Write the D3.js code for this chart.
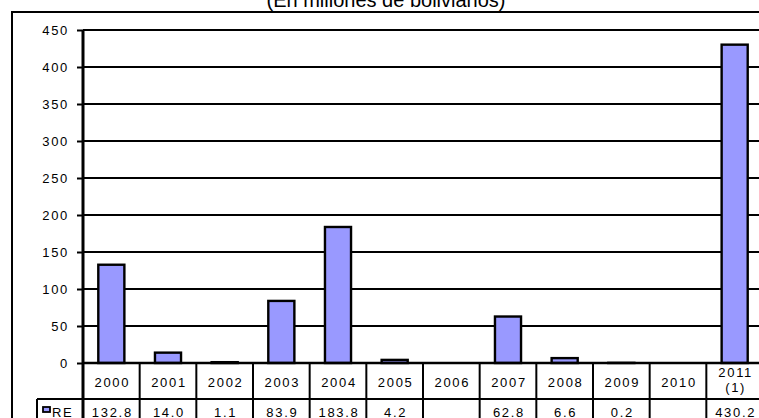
<!DOCTYPE html>
<html>
<head>
<meta charset="utf-8">
<script src="https://cdn.jsdelivr.net/npm/d3@7"></script>
<style>
  html, body { margin: 0; padding: 0; background: #fff; overflow: hidden; }
  svg { display: block; font-family: Arial, "Liberation Sans", sans-serif; }
</style>
</head>
<body>
<div id="chart"></div>
<script>
// data
var title = "(En millones de bolivianos)";
var seriesName = "RE";
var categories = ["2000", "2001", "2002", "2003", "2004", "2005", "2006", "2007", "2008", "2009", "2010", "2011 (1)"];
var values = [132.8, 14.0, 1.1, 83.9, 183.8, 4.2, null, 62.8, 6.6, 0.2, null, 430.2];
var yTicks = [0, 50, 100, 150, 200, 250, 300, 350, 400, 450];

var width = 759, height = 418;
var plotLeft = 83, plotRight = 763, plotTop = 30, plotBottom = 363;
var rowH = 36;
var fontSize = "13px", spacing = "1.7px";

var svg = d3.select("#chart").append("svg")
    .attr("width", width)
    .attr("height", height);

var x = d3.scaleBand()
    .domain(categories)
    .range([plotLeft, plotRight])
    .padding(0);

var y = d3.scaleLinear()
    .domain([0, 450])
    .range([plotBottom, plotTop]);

// outer frame
svg.append("rect")
    .attr("x", 12).attr("y", 12)
    .attr("width", 770).attr("height", 430)
    .attr("fill", "none")
    .attr("stroke", "#000")
    .attr("stroke-width", 2);

// title (mostly cut at the top)
svg.append("text")
    .attr("x", 386).attr("y", 7)
    .attr("text-anchor", "middle")
    .style("font-size", "20px")
    .text(title);

// gridlines
svg.append("g")
    .selectAll("line")
    .data(yTicks.filter(function (d) { return d > 0; }))
    .enter().append("line")
    .attr("x1", plotLeft).attr("x2", plotRight)
    .attr("y1", function (d) { return y(d); })
    .attr("y2", function (d) { return y(d); })
    .attr("stroke", "#000")
    .attr("stroke-width", 2);

// y axis
var yAxis = d3.axisLeft(y)
    .tickValues(yTicks)
    .tickSize(6)
    .tickPadding(9)
    .tickFormat(d3.format("d"));

var gy = svg.append("g")
    .attr("transform", "translate(" + plotLeft + ",0)")
    .call(yAxis);
gy.select(".domain").remove();
gy.selectAll(".tick line").attr("stroke", "#000").attr("stroke-width", 2);
gy.selectAll(".tick text")
    .attr("fill", "#000")
    .attr("dx", "1px")
    .style("font-size", fontSize)
    .style("letter-spacing", spacing)
    .style("font-family", "Arial, 'Liberation Sans', sans-serif");

// bars
var barW = x.bandwidth() * 0.46;
svg.append("g")
    .selectAll("rect")
    .data(values.map(function (v, i) { return { cat: categories[i], v: v }; })
        .filter(function (d) { return d.v !== null; }))
    .enter().append("rect")
    .attr("x", function (d) { return x(d.cat) + (x.bandwidth() - barW) / 2; })
    .attr("y", function (d) { return y(d.v); })
    .attr("width", barW)
    .attr("height", function (d) { return y(0) - y(d.v); })
    .attr("fill", "#9999ff")
    .attr("stroke", "#000")
    .attr("stroke-width", 2.4);

// data table lines
var tbl = svg.append("g").attr("stroke", "#000").attr("stroke-width", 2);
tbl.append("line")
    .attr("x1", plotLeft).attr("x2", plotRight)
    .attr("y1", plotBottom).attr("y2", plotBottom)
    .attr("stroke-width", 2.5);
tbl.append("line")
    .attr("x1", 37).attr("x2", plotRight)
    .attr("y1", plotBottom + rowH).attr("y2", plotBottom + rowH);
tbl.append("line")
    .attr("x1", 37).attr("x2", 37)
    .attr("y1", plotBottom + rowH).attr("y2", height + 10);
tbl.selectAll("line.col")
    .data(categories.slice(1))
    .enter().append("line")
    .attr("class", "col")
    .attr("x1", function (d) { return x(d); })
    .attr("x2", function (d) { return x(d); })
    .attr("y1", plotBottom).attr("y2", height + 10);
// y axis line
tbl.append("line")
    .attr("x1", plotLeft).attr("x2", plotLeft)
    .attr("y1", plotTop).attr("y2", height + 10)
    .attr("stroke-width", 3);

// category labels
var catText = svg.append("g")
    .selectAll("text")
    .data(categories)
    .enter().append("text")
    .attr("text-anchor", "middle")
    .style("font-size", fontSize)
    .style("letter-spacing", spacing);
catText.each(function (d) {
    var parts = d.split(" ");
    var t = d3.select(this);
    var cx = x(d) + x.bandwidth() / 2 + 1;
    if (parts.length === 1) {
        t.append("tspan").attr("x", cx).attr("y", plotBottom + 24).text(d);
    } else {
        t.append("tspan").attr("x", cx).attr("y", plotBottom + 14).text(parts[0]);
        t.append("tspan").attr("x", cx).attr("y", plotBottom + 29).text(parts[1]);
    }
});

// value row
svg.append("g")
    .selectAll("text")
    .data(values.map(function (v, i) { return { cat: categories[i], v: v }; })
        .filter(function (d) { return d.v !== null; }))
    .enter().append("text")
    .attr("x", function (d) { return x(d.cat) + x.bandwidth() / 2 + 1; })
    .attr("y", plotBottom + rowH + 18)
    .attr("text-anchor", "middle")
    .style("font-size", fontSize)
    .style("letter-spacing", spacing)
    .text(function (d) { return d3.format(".1f")(d.v); });

// legend key
svg.append("rect")
    .attr("x", 43).attr("y", 407)
    .attr("width", 7).attr("height", 5)
    .attr("fill", "#9999ff")
    .attr("stroke", "#000")
    .attr("stroke-width", 1.8);
svg.append("text")
    .attr("x", 52).attr("y", plotBottom + rowH + 18)
    .style("font-size", fontSize)
    .style("letter-spacing", spacing)
    .text(seriesName);
</script>
</body>
</html>
